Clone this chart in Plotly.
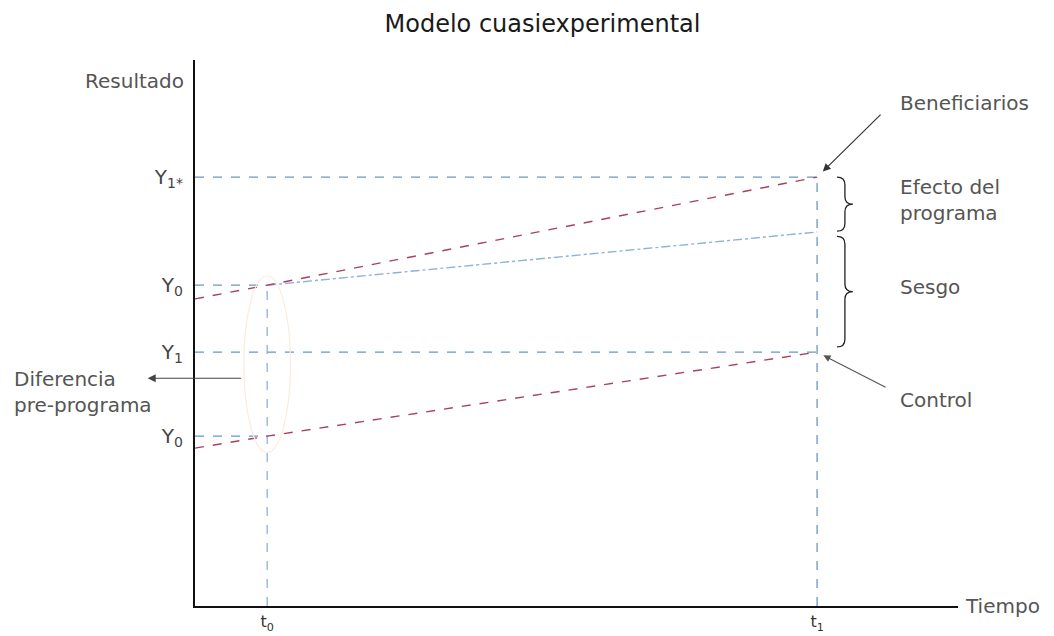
import plotly.graph_objects as go

# Time points
t0 = 1.0
t1 = 9.0
x_min = -0.05
x_max = 11.05

# Outcome levels
y_1star = 10.0       # beneficiaries at t1
y_0_benef = 7.48     # beneficiaries at t0
y_counterf = 8.72    # counterfactual at t1
y_1_ctrl = 5.92      # control at t1
y_0_ctrl = 3.96      # control at t0
y_benef_start = 7.16
y_ctrl_start = 3.68
y_max = 12.73

benef_x = [x_min, t0, t1]
benef_y = [y_benef_start, y_0_benef, y_1star]
ctrl_x = [x_min, t0, t1]
ctrl_y = [y_ctrl_start, y_0_ctrl, y_1_ctrl]
counterf_x = [t0, t1]
counterf_y = [y_0_benef, y_counterf]

ytick_vals = [y_1star, y_0_benef, y_1_ctrl, y_0_ctrl]
ytick_text = ["Y<sub>1*</sub>", "Y<sub>0</sub>", "Y<sub>1</sub>", "Y<sub>0</sub>"]
xtick_vals = [t0, t1]
xtick_text = ["t<sub>0</sub>", "t<sub>1</sub>"]

RED = "#a8405e"
BLUE = "#6a96c4"
LIGHTBLUE = "#8fb2d6"
TXT = "#555555"
FONT = "DejaVu Sans"

fig = go.Figure()

# guide lines (horizontal)
for yv, xe in [(y_1star, t1), (y_0_benef, t0), (y_1_ctrl, t1), (y_0_ctrl, t0)]:
    fig.add_trace(go.Scatter(x=[x_min, xe], y=[yv, yv], mode="lines",
                             line=dict(color=BLUE, width=1.3, dash="dash"),
                             hoverinfo="skip", showlegend=False))
# guide lines (vertical)
fig.add_trace(go.Scatter(x=[t0, t0], y=[0, y_0_benef], mode="lines",
                         line=dict(color=LIGHTBLUE, width=1.3, dash="dash"),
                         hoverinfo="skip", showlegend=False))
fig.add_trace(go.Scatter(x=[t1, t1], y=[0, y_1star], mode="lines",
                         line=dict(color=BLUE, width=1.3, dash="dash"),
                         hoverinfo="skip", showlegend=False))

# series
fig.add_trace(go.Scatter(x=counterf_x, y=counterf_y, mode="lines",
                         line=dict(color=LIGHTBLUE, width=1.4, dash="dashdot"),
                         showlegend=False))
fig.add_trace(go.Scatter(x=benef_x, y=benef_y, mode="lines",
                         line=dict(color=RED, width=1.4, dash="dash"),
                         showlegend=False))
fig.add_trace(go.Scatter(x=ctrl_x, y=ctrl_y, mode="lines",
                         line=dict(color=RED, width=1.4, dash="dash"),
                         showlegend=False))

# faint ellipse around t0
fig.add_shape(type="circle", xref="x", yref="y",
              x0=t0 - 0.34, x1=t0 + 0.34, y0=y_ctrl_start - 0.1, y1=y_0_benef + 0.22,
              line=dict(color="#fbecdb", width=1.2))


def brace(x0, w, yt, yb, d=0.18):
    xm = x0 + w * 0.5
    xt = x0 + w
    ym = (yt + yb) / 2
    return (f"M {x0},{yt} Q {xm},{yt} {xm},{yt - d} L {xm},{ym + d} "
            f"Q {xm},{ym} {xt},{ym} Q {xm},{ym} {xm},{ym - d} "
            f"L {xm},{yb + d} Q {xm},{yb} {x0},{yb}")


fig.add_shape(type="path", xref="x", yref="y",
              path=brace(9.29, 0.23, y_1star, y_counterf + 0.02),
              line=dict(color="#222", width=1.3))
fig.add_shape(type="path", xref="x", yref="y",
              path=brace(9.29, 0.23, y_counterf - 0.1, y_1_ctrl + 0.12),
              line=dict(color="#222", width=1.3))

ann_font = dict(family=FONT, size=20, color=TXT)

# right-side labels
for txt, yv in [("Beneficiarios", 11.72), ("Efecto del<br>programa", 9.46),
                ("Sesgo", 7.44), ("Control", 4.8)]:
    fig.add_annotation(x=0.921, xref="paper", y=yv, yref="y", text=txt,
                       showarrow=False, xanchor="left", align="left", font=ann_font)

# pointer arrows
fig.add_annotation(x=t1, y=y_1star, xref="x", yref="y", text="",
                   showarrow=True, ax=65, ay=-64, arrowhead=2, arrowsize=1.3,
                   arrowwidth=1.2, arrowcolor="#333", standoff=8)
fig.add_annotation(x=t1, y=y_1_ctrl, xref="x", yref="y", text="",
                   showarrow=True, ax=70, ay=36, arrowhead=2, arrowsize=1.3,
                   arrowwidth=1.1, arrowcolor="#555", standoff=7)

# pre-programme difference
fig.add_annotation(x=-0.062, xref="paper", y=5.31, yref="y", text="",
                   showarrow=True, ax=95, ay=0, arrowhead=2, arrowsize=1.6,
                   arrowwidth=1, arrowcolor="#444")
fig.add_annotation(x=-0.24, xref="paper", y=5.0, yref="y",
                   text="Diferencia<br>pre-programa", showarrow=False,
                   xanchor="left", align="left", font=ann_font)

# axis titles
fig.add_annotation(x=-0.012, xref="paper", y=0.987, yref="paper", text="Resultado",
                   showarrow=False, xanchor="right", font=ann_font)
fig.add_annotation(x=1.0066, xref="paper", y=0, yref="y", text="Tiempo",
                   showarrow=False, xanchor="left", font=ann_font)

fig.update_layout(
    width=1046, height=628,
    margin=dict(l=187, r=96, t=52, b=30),
    plot_bgcolor="white", paper_bgcolor="white",
    title=dict(text="Modelo cuasiexperimental", x=0.511, xanchor="center",
               y=1 - 16 / 628, yanchor="middle", yref="container",
               font=dict(family=FONT, size=24, color="#1a1a1a")),
    xaxis=dict(range=[x_min, x_max], showgrid=False, zeroline=False,
               showline=True, linecolor="#111", linewidth=2, automargin=False,
               tickvals=xtick_vals, ticktext=xtick_text, ticks="",
               ticklabelstandoff=0,
               tickfont=dict(family=FONT, size=16, color="#333")),
    yaxis=dict(range=[0, y_max], showgrid=False, zeroline=False,
               showline=True, linecolor="#111", linewidth=2, automargin=False,
               tickvals=ytick_vals, ticktext=ytick_text, ticks="",
               ticklabelstandoff=6,
               tickfont=dict(family=FONT, size=20, color="#444")),
)

fig.write_html("out.html")
